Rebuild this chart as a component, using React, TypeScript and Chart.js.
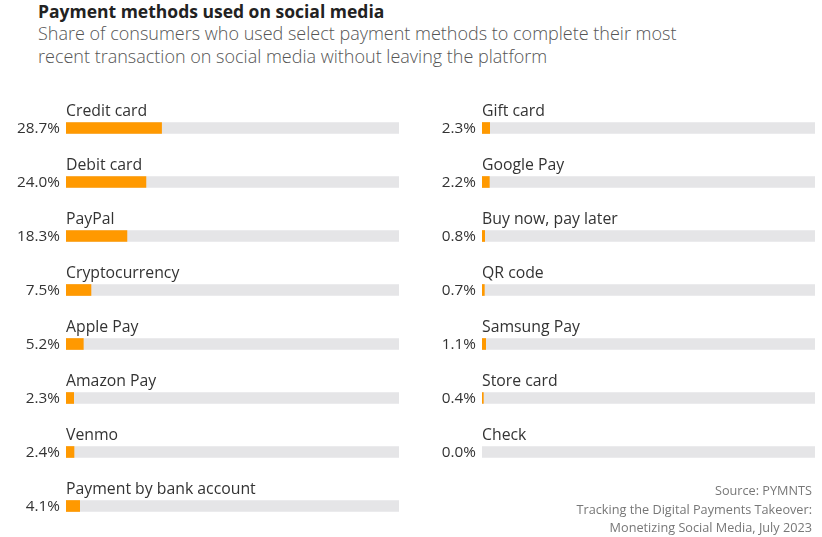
import React, { useEffect, useRef } from "react";
import { Chart, registerables } from "chart.js";

Chart.register(...registerables);

const leftCategories = [
  "Credit card",
  "Debit card",
  "PayPal",
  "Cryptocurrency",
  "Apple Pay",
  "Amazon Pay",
  "Venmo",
  "Payment by bank account",
];
const leftValues = [28.7, 24.0, 18.3, 7.5, 5.2, 2.3, 2.4, 4.1];

const rightCategories = [
  "Gift card",
  "Google Pay",
  "Buy now, pay later",
  "QR code",
  "Samsung Pay",
  "Store card",
  "Check",
];
const rightValues = [2.3, 2.2, 0.8, 0.7, 1.1, 0.4, 0.0];

const trackMax = 100;

const FONT = "'Open Sans', sans-serif";
const ORANGE = "#ff9900";
const TRACK = "#e5e5e7";
const TEXT = "#333333";

const labelPlugin = {
  id: "rowLabels",
  afterDatasetsDraw(chart: any) {
    const ctx = chart.ctx;
    const yScale = chart.scales.y;
    const left = chart.chartArea.left;
    const labels: string[] = chart.data.labels;
    const vals: number[] = chart.data.datasets[0].data;
    ctx.save();
    labels.forEach((lab, i) => {
      const y = yScale.getPixelForValue(i);
      ctx.fillStyle = TEXT;
      ctx.font = `15.8px ${FONT}`;
      ctx.textAlign = "left";
      ctx.textBaseline = "alphabetic";
      ctx.fillText(lab, left, y - 12);
      ctx.font = `15.3px ${FONT}`;
      ctx.textAlign = "right";
      ctx.fillText(vals[i].toFixed(1) + "%", left - 6, y + 5);
    });
    ctx.restore();
  },
};

function BarColumn(props: {
  labels: string[];
  values: number[];
  left: number;
  width: number;
  padding: { left: number; right: number; top: number; bottom: number };
}) {
  const ref = useRef<HTMLCanvasElement | null>(null);
  useEffect(() => {
    if (!ref.current) return;
    const chart = new Chart(ref.current, {
      type: "bar",
      data: {
        labels: props.labels,
        datasets: [
          {
            data: props.values,
            backgroundColor: props.values.map((v) => (v > 0 ? ORANGE : "rgba(0,0,0,0)")),
            barThickness: 11,
            grouped: false,
            order: 1,
          } as any,
          {
            data: props.labels.map(() => trackMax),
            backgroundColor: TRACK,
            barThickness: 11,
            grouped: false,
            order: 2,
          } as any,
        ],
      },
      options: {
        indexAxis: "y",
        animation: false,
        responsive: false,
        maintainAspectRatio: false,
        layout: { padding: props.padding },
        plugins: {
          legend: { display: false },
          tooltip: { enabled: false },
          title: { display: false },
        },
        scales: {
          x: { min: 0, max: trackMax, display: false },
          y: { display: false },
        },
      },
      plugins: [labelPlugin],
    });
    return () => chart.destroy();
  }, []);
  return (
    <canvas
      ref={ref}
      width={props.width}
      height={537}
      style={{ position: "absolute", left: props.left, top: 0, width: props.width, height: 537 }}
    />
  );
}

export default function App() {
  return (
    <div
      style={{
        position: "fixed",
        left: 0,
        top: 0,
        width: 822,
        height: 537,
        background: "#ffffff",
        fontFamily: FONT,
        overflow: "hidden",
      }}
    >
      <div
        style={{
          position: "absolute",
          left: 38,
          top: 0,
          fontSize: 17.5,
          fontWeight: 700,
          color: "#222",
          lineHeight: "23px",
          whiteSpace: "nowrap",
        }}
      >
        Payment methods used on social media
      </div>
      <div
        style={{
          position: "absolute",
          left: 38,
          top: 22,
          fontSize: 18,
          fontWeight: 300,
          color: "#555",
          lineHeight: "23px",
          whiteSpace: "nowrap",
        }}
      >
        Share of consumers who used select payment methods to complete their most
        <br />
        recent transaction on social media without leaving the platform
      </div>
      <BarColumn
        labels={leftCategories}
        values={leftValues}
        left={0}
        width={411}
        padding={{ left: 66, right: 12, top: 101, bottom: 4 }}
      />
      <BarColumn
        labels={rightCategories}
        values={rightValues}
        left={411}
        width={411}
        padding={{ left: 71, right: 7, top: 101, bottom: 58 }}
      />
      <div
        style={{
          position: "absolute",
          right: 10,
          top: 481,
          fontSize: 12.7,
          color: "#777",
          lineHeight: "18.5px",
          textAlign: "right",
          whiteSpace: "nowrap",
        }}
      >
        Source: PYMNTS
        <br />
        Tracking the Digital Payments Takeover:
        <br />
        Monetizing Social Media, July 2023
      </div>
    </div>
  );
}
